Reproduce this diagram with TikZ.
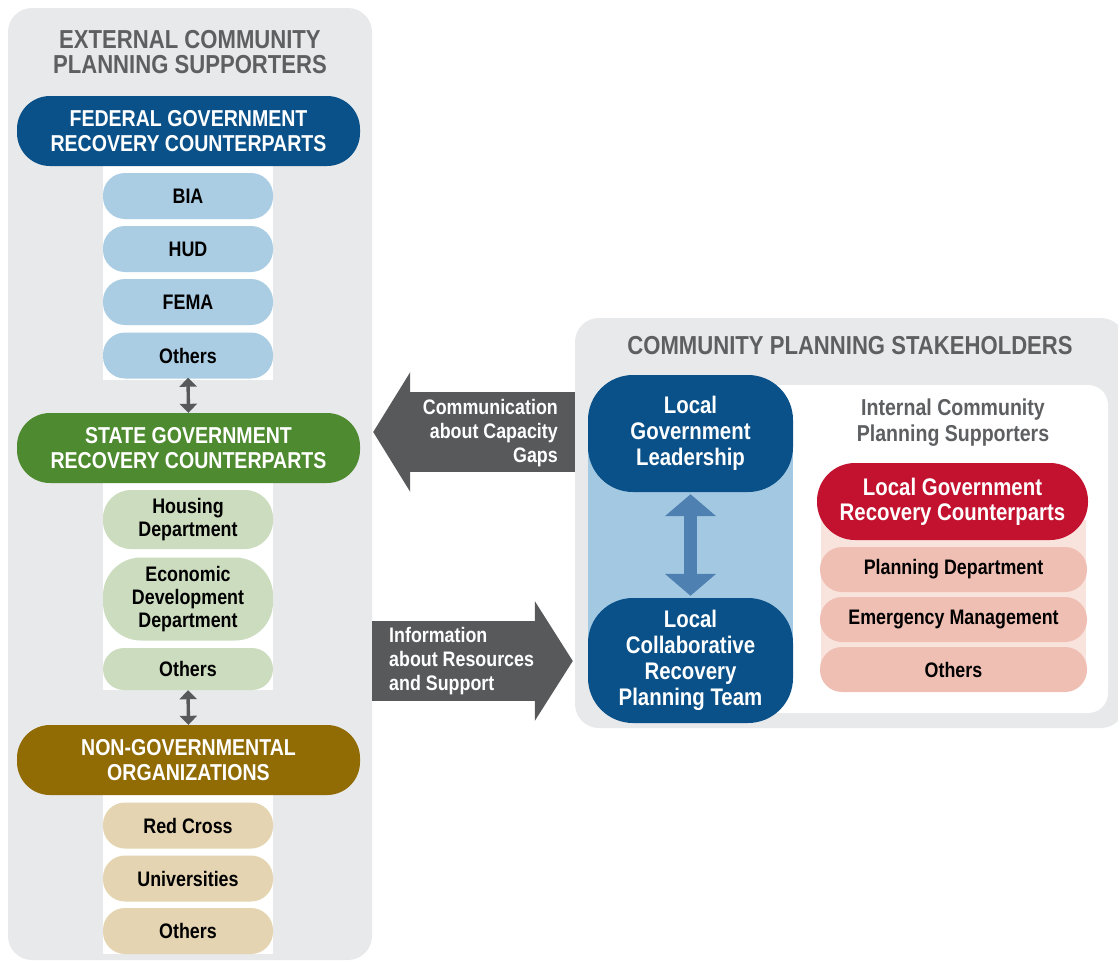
\documentclass[tikz,border=0pt]{standalone}
\usepackage{fontspec}
\setmainfont{Liberation Sans}[FakeStretch=0.85]
\usetikzlibrary{arrows.meta}
\definecolor{panelgray}{HTML}{E8E9EB}
\definecolor{titlegray}{HTML}{5E5F61}
\definecolor{fedblue}{HTML}{0A5189}
\definecolor{fedlight}{HTML}{AACDE4}
\definecolor{stgreen}{HTML}{4E8A2F}
\definecolor{stlight}{HTML}{CCDCBF}
\definecolor{ngobrown}{HTML}{916B04}
\definecolor{ngolight}{HTML}{E4D4B2}
\definecolor{colblue}{HTML}{A3C9E2}
\definecolor{arrblue}{HTML}{4F80B2}
\definecolor{arrgray}{HTML}{58595B}
\definecolor{locred}{HTML}{C3122F}
\definecolor{redlight}{HTML}{F0BFB4}
\definecolor{redstrip}{HTML}{F9E3DD}
\tikzset{
  panel/.style={fill=panelgray, draw=none, rounded corners=24pt, inner sep=0pt},
  strip/.style={fill=white, draw=none, inner sep=0pt},
  header/.style={draw=none, rounded corners=33pt, minimum width=343pt, minimum height=70pt,
    text=white, align=center, inner sep=0pt, font=\fontsize{23}{25}\selectfont\bfseries},
  pill/.style={draw=none, rounded corners=22pt, minimum width=170pt, minimum height=46pt,
    text=black, align=center, inner sep=0pt, font=\fontsize{21}{23}\selectfont\bfseries},
  ptitle/.style={text=titlegray, align=center, font=\fontsize{26}{25}\selectfont\bfseries},
  bluebox/.style={fill=fedblue, draw=none, rounded corners=45pt, minimum width=205pt,
    text=white, align=center, inner sep=0pt, font=\fontsize{24}{26}\selectfont\bfseries},
  redpill/.style={fill=redlight, draw=none, rounded corners=22pt, minimum width=267pt, minimum height=45pt,
    text=black, align=center, inner sep=0pt, font=\fontsize{21}{23}\selectfont\bfseries},
  smallarrow/.style={draw=arrgray, line width=3.4pt, {Triangle[width=17pt,length=9pt]}-{Triangle[width=17pt,length=9pt]}},
  arrtext/.style={text=white, font=\fontsize{21}{24}\selectfont\bfseries, inner sep=0pt},
}
\begin{document}
\begin{tikzpicture}[x=1pt,y=-1pt]
\useasboundingbox (0,0) rectangle (1118,962);
% ---------- left panel ----------
\node[panel, minimum width=364pt, minimum height=952pt] (lpanel) at (190,484) {};
\node[strip, minimum width=170pt, minimum height=214pt] (wstrip1) at (188,273) {};
\node[strip, minimum width=170pt, minimum height=207pt] (wstrip2) at (188,586) {};
\node[strip, minimum width=170pt, minimum height=159pt] (wstrip3) at (188,874) {};
\node[ptitle] (ltitle) at (190,52) {EXTERNAL COMMUNITY\\PLANNING SUPPORTERS};

\node[header, fill=fedblue] (fed) at (188.5,131) {FEDERAL GOVERNMENT\\RECOVERY COUNTERPARTS};
\node[pill, fill=fedlight] (bia) at (188,196) {BIA};
\node[pill, fill=fedlight] (hud) at (188,249) {HUD};
\node[pill, fill=fedlight] (fema) at (188,302) {FEMA};
\node[pill, fill=fedlight] (fothers) at (188,355.5) {Others};

\node[header, fill=stgreen] (state) at (188.5,448) {STATE GOVERNMENT\\RECOVERY COUNTERPARTS};
\node[pill, fill=stlight, minimum height=59pt, rounded corners=28pt] (housing) at (188,519.5) {Housing\\Department};
\node[pill, fill=stlight, minimum height=83pt, rounded corners=38pt] (econ) at (188,599) {Economic\\Development\\Department};
\node[pill, fill=stlight, minimum height=42pt, rounded corners=21pt] (sothers) at (188,669) {Others};

\node[header, fill=ngobrown] (ngo) at (188.5,760) {NON-GOVERNMENTAL\\ORGANIZATIONS};
\node[pill, fill=ngolight] (redcross) at (188,825.5) {Red Cross};
\node[pill, fill=ngolight] (univ) at (188,878.5) {Universities};
\node[pill, fill=ngolight] (nothers) at (188,931) {Others};

\draw[smallarrow] ([yshift=1pt]fothers.south) -- (state.north);
\draw[smallarrow] (sothers.south) -- (ngo.north);

% ---------- right panel ----------
\node[panel, minimum width=550pt, minimum height=410pt] (rpanel) at (850,523) {};
\node[fill=white, draw=none, rounded corners=20pt, minimum width=400pt, minimum height=328pt, inner sep=0pt] (inner) at (908,549) {};
\node[ptitle] (rtitle) at (850,346) {COMMUNITY PLANNING STAKEHOLDERS};
\node[fill=colblue, draw=none, minimum width=205pt, minimum height=230pt, inner sep=0pt] (col) at (690.5,545) {};
\node[bluebox, minimum height=117pt] (lgl) at (690.5,433.5) {Local\\Government\\Leadership};
\node[bluebox, minimum height=125pt] (lcr) at (690.5,660.5) {Local\\Collaborative\\Recovery\\Planning Team};
\draw[arrblue, line width=13pt, {Triangle[width=50pt,length=22pt]}-{Triangle[width=50pt,length=22pt]}]
  ([yshift=-2pt]lgl.south) -- ([yshift=2pt]lcr.north);

\node[text=titlegray, align=center, font=\fontsize{23}{26}\selectfont\bfseries] (inttitle) at (953,423) {Internal Community\\Planning Supporters};
\node[fill=redstrip, draw=none, minimum width=265pt, minimum height=155pt, inner sep=0pt] (rstrip) at (953.5,597.5) {};
\node[fill=locred, draw=none, rounded corners=38pt, minimum width=271pt, minimum height=77pt,
  text=white, align=center, inner sep=0pt, font=\fontsize{24}{25}\selectfont\bfseries] (lgrc) at (952.5,501.5) {Local Government\\Recovery Counterparts};
\node[redpill] (plan) at (953.5,569.5) {Planning Department};
\node[redpill] (emerg) at (953.5,619.5) {Emergency Management};
\node[redpill] (rothers) at (953.5,669.5) {Others};

% ---------- big gray arrows ----------
\coordinate (c1s) at (rpanel.west |- 0,432);
\coordinate (c1e) at (lpanel.east |- 0,432);
\draw[arrgray, line width=80pt, -{Triangle[width=118pt,length=37pt]}] (c1s) -- ([xshift=1pt]c1e);
\node[arrtext, align=right, anchor=east] (commtext) at (558,433) {Communication\\about Capacity\\Gaps};

\coordinate (c2s) at (lpanel.east |- 0,661);
\coordinate (c2e) at (rpanel.west |- 0,661);
\draw[arrgray, line width=80pt, -{Triangle[width=118pt,length=38pt]}] (c2s) -- ([xshift=-2pt]c2e);
\node[arrtext, align=left, anchor=west] (infotext) at (389,661) {Information\\about Resources\\and Support};
\end{tikzpicture}
\end{document}
